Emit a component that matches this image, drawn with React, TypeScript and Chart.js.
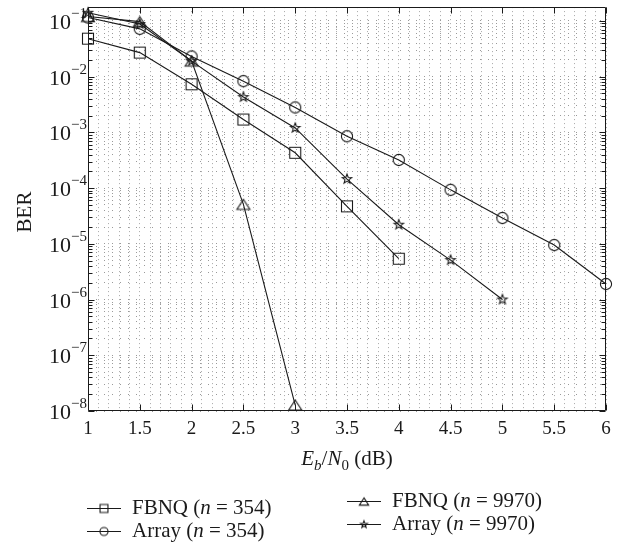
import React, { useEffect, useRef } from 'react';
import { Chart, registerables } from 'chart.js';

Chart.register(...registerables);

// ---- data ----
const xValues = [1, 1.5, 2, 2.5, 3, 3.5, 4, 4.5, 5, 5.5, 6];
const fbnq354 = [0.048, 0.027, 0.0073, 0.0017, 0.00043, 4.7e-5, 5.4e-6];
const array354 = [0.115, 0.072, 0.023, 0.0083, 0.0028, 8.5e-4, 3.2e-4, 9.3e-5, 2.9e-5, 9.5e-6, 1.9e-6];
const fbnq9970 = [0.12, 0.097, 0.019, 5.1e-5, 1.28e-8];
const array9970 = [0.14, 0.088, 0.019, 0.0043, 0.0012, 1.45e-4, 2.2e-5, 5.1e-6, 1.0e-6];

const xMajorTicks = [1, 1.5, 2, 2.5, 3, 3.5, 4, 4.5, 5, 5.5, 6];
const yDecades = [-8, -7, -6, -5, -4, -3, -2, -1];
const yMin = 1e-8;
const yMax = 0.177;

const legendNames = ['FBNQ', 'Array', 'FBNQ', 'Array'];
const legendN = ['354', '354', '9970', '9970'];
const markerKinds = ['square', 'circle', 'triangle', 'star'];

const SERIF = '"Liberation Serif", "Times New Roman", serif';
const INK = '#1a1a1a';

function makeMarker(kind: string, scale: number): HTMLCanvasElement {
  const S = Math.ceil(16 * scale) + 2;
  const c = document.createElement('canvas');
  c.width = S;
  c.height = S;
  const g = c.getContext('2d')!;
  const cx = S / 2;
  const cy = S / 2;
  g.strokeStyle = INK;
  g.lineWidth = 1.1;
  g.beginPath();
  if (kind === 'square') {
    const h = 5.5 * scale;
    g.rect(cx - h, cy - h, 2 * h, 2 * h);
  } else if (kind === 'circle') {
    g.arc(cx, cy, 5.6 * scale, 0, Math.PI * 2);
  } else if (kind === 'triangle') {
    const w = 6.5 * scale;
    const hh = 5 * scale;
    g.moveTo(cx, cy - hh);
    g.lineTo(cx + w, cy + hh);
    g.lineTo(cx - w, cy + hh);
    g.closePath();
  } else {
    const ro = 5 * scale;
    const ri = 2.1 * scale;
    for (let i = 0; i < 10; i++) {
      const r = i % 2 === 0 ? ro : ri;
      const a = -Math.PI / 2 + (i * Math.PI) / 5;
      const px = cx + r * Math.cos(a);
      const py = cy + r * Math.sin(a);
      if (i === 0) g.moveTo(px, py);
      else g.lineTo(px, py);
    }
    g.closePath();
  }
  g.stroke();
  return c;
}

type Run = { t: string; f: string; dy?: number };
function drawRuns(ctx: CanvasRenderingContext2D, runs: Run[], x: number, y: number, align: 'left' | 'center') {
  let total = 0;
  for (const r of runs) {
    ctx.font = r.f;
    total += ctx.measureText(r.t).width;
  }
  let cx = align === 'center' ? x - total / 2 : x;
  ctx.textAlign = 'left';
  for (const r of runs) {
    ctx.font = r.f;
    ctx.fillText(r.t, cx, y + (r.dy || 0));
    cx += ctx.measureText(r.t).width;
  }
}

export default function App() {
  const ref = useRef<HTMLCanvasElement>(null);

  useEffect(() => {
    if (!ref.current) return;
    const big = markerKinds.map((k) => makeMarker(k, 1));
    const small = markerKinds.map((k) => makeMarker(k, 0.72));
    const seriesList = [fbnq354, array354, fbnq9970, array9970];

    const datasets = seriesList.map((s, i) => ({
      label: legendNames[i] + ' (n = ' + legendN[i] + ')',
      data: s.map((v, j) => ({ x: xValues[j], y: v })),
      borderColor: INK,
      borderWidth: 1.1,
      backgroundColor: 'transparent',
      pointStyle: big[i] as any,
      pointRadius: 6,
      pointHoverRadius: 6,
      tension: 0,
      fill: false,
      clip: false as any,
    }));

    const decor = {
      id: 'decor',
      afterDraw(chart: any) {
        const { ctx, chartArea: a, scales } = chart;
        const xs = scales.x;
        const ys = scales.y;
        ctx.save();
        ctx.strokeStyle = INK;
        ctx.lineWidth = 1;
        const L = Math.round(a.left) + 0.5;
        const R = Math.round(a.right) - 0.5;
        const T = Math.round(a.top) + 0.5;
        const B = Math.round(a.bottom) - 0.5;
        ctx.beginPath();
        ctx.rect(L, T, R - L, B - T);
        ctx.stroke();
        // inward ticks
        ctx.beginPath();
        for (const v of xMajorTicks) {
          const px = Math.round(xs.getPixelForValue(v)) + 0.5;
          ctx.moveTo(px, B);
          ctx.lineTo(px, B - 6);
          ctx.moveTo(px, T);
          ctx.lineTo(px, T + 6);
        }
        for (const e of yDecades) {
          for (let m = 1; m <= 9; m++) {
            const val = m * Math.pow(10, e);
            if (val > yMax) continue;
            const py = Math.round(ys.getPixelForValue(val)) + 0.5;
            const len = m === 1 ? 6 : 4;
            ctx.moveTo(L, py);
            ctx.lineTo(L + len, py);
            ctx.moveTo(R, py);
            ctx.lineTo(R - len, py);
          }
        }
        ctx.stroke();

        ctx.fillStyle = INK;
        ctx.textBaseline = 'alphabetic';
        // y tick labels 10^e
        for (const e of yDecades) {
          const py = ys.getPixelForValue(Math.pow(10, e));
          const expText = '\u2212' + String(-e);
          ctx.font = '15px ' + SERIF;
          const ew = ctx.measureText(expText).width;
          ctx.textAlign = 'left';
          const ex = 87 - ew;
          ctx.fillText(expText, ex, py - 3);
          ctx.font = '22px ' + SERIF;
          ctx.textAlign = 'right';
          ctx.fillText('10', ex, py + 8);
        }

        // x axis title
        drawRuns(
          ctx,
          [
            { t: 'E', f: 'italic 21px ' + SERIF },
            { t: 'b', f: 'italic 15px ' + SERIF, dy: 5 },
            { t: '/', f: '21px ' + SERIF },
            { t: 'N', f: 'italic 21px ' + SERIF },
            { t: '0', f: '15px ' + SERIF, dy: 5 },
            { t: ' (dB)', f: '21px ' + SERIF },
          ],
          (a.left + a.right) / 2,
          465,
          'center'
        );

        // y axis title
        ctx.save();
        ctx.translate(31, 212);
        ctx.rotate(-Math.PI / 2);
        ctx.font = '21px ' + SERIF;
        ctx.textAlign = 'center';
        ctx.fillText('BER', 0, 0);
        ctx.restore();

        // legend
        const pos = [
          { x: 87, y: 508 },
          { x: 87, y: 531 },
          { x: 347, y: 501 },
          { x: 347, y: 524 },
        ];
        for (let i = 0; i < 4; i++) {
          const p = pos[i];
          ctx.beginPath();
          ctx.strokeStyle = INK;
          ctx.lineWidth = 1.1;
          ctx.moveTo(p.x, p.y + 0.5);
          ctx.lineTo(p.x + 34, p.y + 0.5);
          ctx.stroke();
          const mk = small[i];
          ctx.drawImage(mk, p.x + 17 - mk.width / 2, p.y + 0.5 - mk.height / 2);
          ctx.fillStyle = INK;
          ctx.textBaseline = 'middle';
          drawRuns(
            ctx,
            [
              { t: legendNames[i] + ' (', f: '21px ' + SERIF },
              { t: 'n', f: 'italic 21px ' + SERIF },
              { t: ' = ' + legendN[i] + ')', f: '21px ' + SERIF },
            ],
            p.x + 45,
            p.y,
            'left'
          );
        }
        ctx.restore();
      },
    };

    const chart = new Chart(ref.current, {
      type: 'line',
      data: { datasets: datasets as any },
      options: {
        animation: false,
        responsive: false,
        devicePixelRatio: 1,
        layout: { padding: { top: 2, right: 22, left: 0, bottom: 0 } },
        plugins: {
          legend: { display: false },
          tooltip: { enabled: false },
        },
        scales: {
          x: {
            type: 'linear',
            min: 1,
            max: 6,
            afterBuildTicks: (s: any) => {
              const t = [];
              for (let i = 0; i <= 50; i++) t.push({ value: Math.round((1 + i * 0.1) * 10) / 10 });
              s.ticks = t;
            },
            afterFit: (s: any) => {
              s.height = 137;
            },
            ticks: {
              autoSkip: false,
              maxRotation: 0,
              padding: 7,
              color: INK,
              font: { family: SERIF, size: 19 },
              callback: (v: any) => {
                const n = Number(v);
                return Math.abs(n * 2 - Math.round(n * 2)) < 1e-6 ? String(Math.round(n * 10) / 10) : '';
              },
            },
            grid: { color: '#a8a8a8', lineWidth: 1, drawTicks: false },
            border: { display: false, dash: [1, 3] },
          },
          y: {
            type: 'logarithmic',
            min: yMin,
            max: yMax,
            afterBuildTicks: (s: any) => {
              const t = [];
              for (const e of yDecades) {
                for (let m = 1; m <= 9; m++) {
                  const v = m * Math.pow(10, e);
                  if (v <= yMax) t.push({ value: v });
                }
              }
              s.ticks = t;
            },
            afterFit: (s: any) => {
              s.width = 88;
            },
            ticks: { display: false },
            grid: { color: '#9a9a9a', lineWidth: 1, drawTicks: false },
            border: { display: false, dash: [1, 7] },
          },
        },
      },
      plugins: [decor],
    });
    return () => chart.destroy();
  }, []);

  return (
    <div style={{ position: 'absolute', left: 0, top: 0, width: 628, height: 548, background: '#fff' }}>
      <canvas ref={ref} width={628} height={548} style={{ display: 'block' }} />
    </div>
  );
}
